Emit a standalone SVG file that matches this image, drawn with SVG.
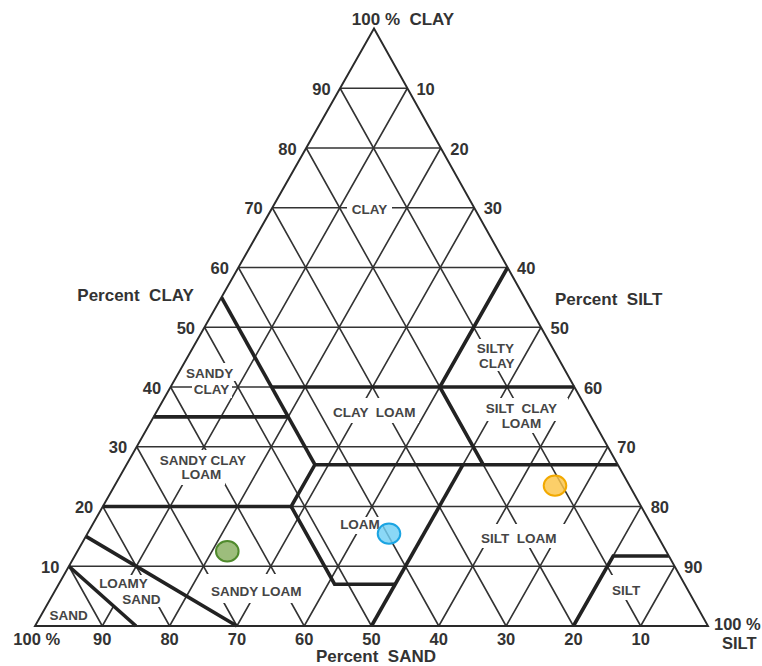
<svg xmlns="http://www.w3.org/2000/svg" width="762" height="666" viewBox="0 0 762 666">
<style>
.grid{fill:none;stroke:#333;stroke-width:1.6}
.edge{fill:none;stroke:#2a2a2a;stroke-width:1.9;stroke-linejoin:miter}
.bd{fill:none;stroke:#222;stroke-width:3.6;stroke-linejoin:miter;stroke-linecap:butt}
.mask{fill:#fff;stroke:none}
.rl{font-family:"Liberation Sans",Arial,sans-serif;font-size:13.5px;font-weight:bold;fill:#454545;text-anchor:middle;white-space:pre}
.tk{font-family:"Liberation Sans",Arial,sans-serif;font-size:16.5px;font-weight:bold;fill:#333}
.ax{font-family:"Liberation Sans",Arial,sans-serif;font-size:17px;font-weight:bold;fill:#333;white-space:pre}
</style>
<rect width="762" height="666" fill="#fff"/>
<g id="connectors">
<g id="grid" class="grid">
<path d="M68.9 566.25H674.6M102.8 506.5H641.2M136.7 446.75H607.8M170.6 387H574.4M204.5 327.25H541M238.4 267.5H507.6M272.3 207.75H474.2M306.2 148H440.8M340.1 88.25H407.4"/>
<path d="M102.3 626L68.9 566.25M169.6 626L102.8 506.5M236.9 626L136.7 446.75M304.2 626L170.6 387M371.5 626L204.5 327.25M438.8 626L238.4 267.5M506.1 626L272.3 207.75M573.4 626L306.2 148M640.7 626L340.1 88.25"/>
<path d="M102.3 626L407.4 88.25M169.6 626L440.8 148M236.9 626L474.2 207.75M304.2 626L507.6 267.5M371.5 626L541 327.25M438.8 626L574.4 387M506.1 626L607.8 446.75M573.4 626L641.2 506.5M640.7 626L674.6 566.25"/>
</g>
<g id="label-masks">
<rect class="mask" x="347" y="199" width="45" height="18"/>
<rect class="mask" x="183" y="363" width="53" height="18"/>
<rect class="mask" x="192" y="381" width="40" height="17"/>
<rect class="mask" x="473" y="339" width="44" height="17"/>
<rect class="mask" x="474" y="356" width="41" height="15"/>
<rect class="mask" x="329" y="398" width="90" height="25"/>
<rect class="mask" x="482" y="398" width="86" height="23"/>
<rect class="mask" x="498" y="421" width="47" height="12"/>
<rect class="mask" x="155" y="450" width="96" height="19"/>
<rect class="mask" x="178" y="469" width="47" height="16"/>
<rect class="mask" x="337" y="517" width="46" height="17"/>
<rect class="mask" x="478" y="524" width="87" height="24"/>
<rect class="mask" x="96" y="575" width="55" height="16"/>
<rect class="mask" x="113" y="591" width="51" height="16"/>
<rect class="mask" x="47" y="607" width="42" height="17"/>
<rect class="mask" x="207" y="574" width="98" height="29"/>
<rect class="mask" x="608" y="575" width="36" height="25"/>
</g>
<g id="boundaries" class="bd">
<path d="M68.9 566.25L136 626"/>
<path d="M85.9 536.4L236.9 626"/>
<path d="M102.8 506.5H291.2L314.9 464.7H617.8"/>
<path d="M291.2 506.5L334.6 584.2H395.2"/>
<path d="M371.5 626L463 464.7"/>
<path d="M221.5 297.4L314.9 464.7"/>
<path d="M153.7 416.9H288.3"/>
<path d="M271.6 387H574.4"/>
<path d="M507.6 267.5L439.8 387L483.2 464.7"/>
<path d="M573.4 626L613.2 556H668.9"/>
</g>
<path id="triangle" class="edge" d="M374 28.5L35 626H708Z"/>
</g>
<g id="regions">
<g id="clay"><text class="rl" x="369.5" y="214">CLAY</text></g>
<g id="sandy-clay"><text class="rl" x="209.7" y="377.7">SANDY</text><text class="rl" x="211.5" y="394">CLAY</text></g>
<g id="silty-clay"><text class="rl" x="495.5" y="353.3">SILTY</text><text class="rl" x="496.8" y="367.7">CLAY</text></g>
<g id="clay-loam"><text class="rl" x="374.3" y="416.7" xml:space="preserve">CLAY  LOAM</text></g>
<g id="silt-clay-loam"><text class="rl" x="521.5" y="412.7" xml:space="preserve">SILT  CLAY</text><text class="rl" x="521.5" y="428.3">LOAM</text></g>
<g id="sandy-clay-loam"><text class="rl" x="202.8" y="464.7">SANDY CLAY</text><text class="rl" x="201.3" y="479.3">LOAM</text></g>
<g id="loam"><text class="rl" x="360" y="529.3">LOAM</text></g>
<g id="silt-loam"><text class="rl" x="518.7" y="542.7" xml:space="preserve">SILT  LOAM</text></g>
<g id="loamy-sand"><text class="rl" x="123.5" y="587.5">LOAMY</text><text class="rl" x="141.3" y="603.5">SAND</text></g>
<g id="sand"><text class="rl" x="68.7" y="620">SAND</text></g>
<g id="sandy-loam"><text class="rl" x="256.2" y="596">SANDY LOAM</text></g>
<g id="silt"><text class="rl" x="626.2" y="595">SILT</text></g>
</g>
<g id="samples" stroke-width="2">
<ellipse id="sample-green" cx="227.3" cy="551.3" rx="11.3" ry="10.3" fill="#9dbd7c" stroke="#4f8a2c"/>
<ellipse id="sample-blue" cx="389" cy="533.6" rx="11.3" ry="10.2" fill="#72cff4" fill-opacity="0.82" stroke="#1ba4e2"/>
<ellipse id="sample-yellow" cx="555" cy="485.6" rx="11.3" ry="10.2" fill="#fbc548" fill-opacity="0.82" stroke="#f2a900"/>
</g>
<g id="ticks-clay" class="tk" text-anchor="end">
<text x="330.6" y="94.75">90</text><text x="296.7" y="154.5">80</text><text x="262.8" y="214.25">70</text><text x="228.9" y="274">60</text><text x="195" y="333.75">50</text><text x="161.1" y="393.5">40</text><text x="127.2" y="453.25">30</text><text x="93.3" y="513">20</text><text x="59.4" y="572.75">10</text>
</g>
<g id="ticks-silt" class="tk" text-anchor="start">
<text x="416.4" y="94.75">10</text><text x="450.3" y="154.5">20</text><text x="483.7" y="214.25">30</text><text x="517.1" y="274">40</text><text x="550.5" y="333.75">50</text><text x="583.9" y="393.5">60</text><text x="617.3" y="453.25">70</text><text x="650.7" y="513">80</text><text x="684.1" y="572.75">90</text>
</g>
<g id="ticks-sand" class="tk" text-anchor="middle">
<text x="102.3" y="645">90</text><text x="169.6" y="645">80</text><text x="236.9" y="645">70</text><text x="304.2" y="645">60</text><text x="371.5" y="645">50</text><text x="438.8" y="645">40</text><text x="506.1" y="645">30</text><text x="573.4" y="645">20</text><text x="640.7" y="645">10</text>
</g>
<g id="axis-titles">
<text class="ax" x="403" y="25" text-anchor="middle" xml:space="preserve">100 %  CLAY</text>
<text class="ax" x="77.3" y="301" xml:space="preserve">Percent  CLAY</text>
<text class="ax" x="555" y="305" xml:space="preserve">Percent  SILT</text>
<text class="ax" x="376" y="662" text-anchor="middle" xml:space="preserve">Percent  SAND</text>
<text class="tk" x="13.3" y="645">100 %</text>
<text class="tk" x="714" y="630">100 %</text>
<text class="tk" x="722" y="649">SILT</text>
</g>
</svg>
